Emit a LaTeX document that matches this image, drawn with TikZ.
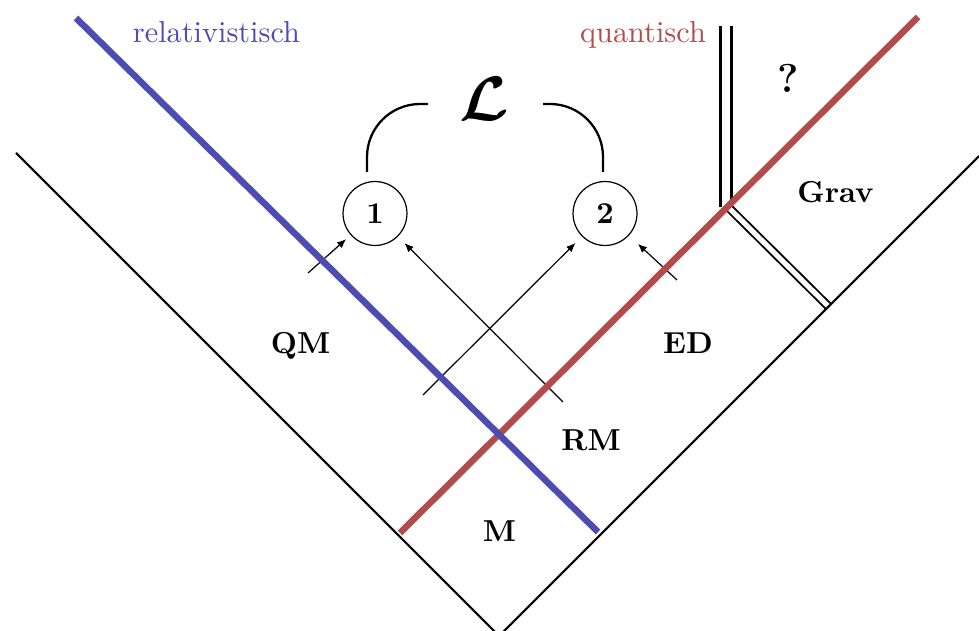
\documentclass[tikz,border=0pt]{standalone}
\usetikzlibrary{arrows.meta}
\definecolor{relblue}{rgb}{0.3,0.3,0.7}
\definecolor{qred}{rgb}{0.7,0.3,0.3}
\begin{document}
\begin{tikzpicture}[x=0.33pt,y=-0.33pt,
  vline/.style={line width=0.7pt, line join=miter},
  thickblue/.style={line width=2.15pt, color=relblue},
  thickred/.style={line width=2.15pt, color=qred},
  dblv/.style={double, double distance=2.9pt, line width=0.76pt},
  dbld/.style={double, double distance=1.7pt, line width=0.62pt},
  arr/.style={line width=0.4pt, -{Latex[length=3pt,width=2.5pt]}},
  arcline/.style={line width=0.75pt, rounded corners=17.5pt},
  circ/.style={draw, circle, line width=0.4pt, minimum size=21.1pt, inner sep=0pt, font=\bfseries},
  lbl/.style={anchor=base, font=\bfseries, inner sep=0pt},
  bigl/.style={inner sep=0pt, font=\fontsize{21.5}{24}\usefont{OMS}{cmsy}{b}{n}}
]
\useasboundingbox (0,0) rectangle (979,631);

% double lines
\draw[dblv] (726,26) -- (726,207);
\draw[dbld] (727,206) -- (829,307);

% light-cone V
\draw[vline] (16,153) -- (499,636) -- (979,156);

% nodes
\node[circ] (c1) at (375,213.5) {1};
\node[circ] (c2) at (605,213.5) {2};
\node[bigl] (lag) at (484,99) {L};

% arcs from L to circles
\coordinate (l1a) at (428,104);
\coordinate (l1b) at (367,172);
\coordinate (l2a) at (543,104);
\coordinate (l2b) at (603,172);
\draw[arcline] (l1b) |- (l1a);
\draw[arcline] (l2a) -| (l2b);

% arrows
\coordinate (a1) at (308,273);
\coordinate (a2) at (563,402);
\coordinate (a3) at (423,395);
\coordinate (a4) at (677,280);
\draw[arr, shorten >=2pt] (a1) -- (c1);
\draw[arr, shorten >=3pt] (a2) -- (c1);
\draw[arr, shorten >=3pt] (a3) -- (c2);
\draw[arr, shorten >=4pt] (a4) -- (c2);

% thick coloured lines
\draw[thickred] (400,533) -- (918,17);
\draw[thickblue] (76,18) -- (598,532);

% labels
\node[anchor=base, inner sep=0pt, text=relblue] (rel) at (216.5,43) {relativistisch};
\node[anchor=base, inner sep=0pt, text=qred] (qua) at (643,43) {quantisch};
\node[lbl, font=\bfseries\fontsize{13.3}{15}\selectfont] (qmark) at (788.5,93) {?};
\node[lbl] (grav) at (835.5,203) {Grav};
\node[lbl] (qm) at (300.5,353) {QM};
\node[lbl] (ed) at (688,353) {ED};
\node[lbl] (rm) at (591,450) {RM};
\node[lbl] (m) at (499.5,541) {M};
\end{tikzpicture}
\end{document}
